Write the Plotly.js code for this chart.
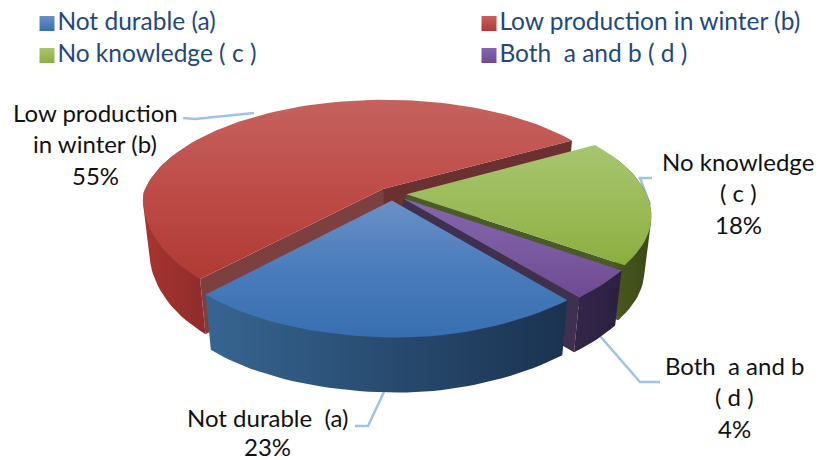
<!DOCTYPE html>
<html>
<head>
<meta charset="utf-8">
<script src="https://cdn.plot.ly/plotly-3.0.1.min.js"></script>
<style>html,body{margin:0;padding:0;background:#fff}#chart{width:822px;height:460px}</style>
</head>
<body>
<div id="chart"></div>
<script>
// Reasons given, in clockwise pie order
const categories = ['Not durable (a)', 'Low production in winter (b)', 'No knowledge ( c )', 'Both  a and b ( d )'];
const shares = [23, 55, 18, 4];
const labelLines = [['Not durable  (a)'], ['Low production', 'in winter (b)'], ['No knowledge', '( c )'], ['Both  a and b', '( d )']];

// Camera model for the tilted disc
const CX = 392, CY = 194, RX = 240, RY = 108, PERSP = 0.191, DEPTH = 55, SHRINK = 0.027;
const SKEW_RIGHT = 29, SKEW_LEFT = 22, ROLL = 0.0125;
const EXPLODE = 0.06, FIRST_ANGLE = 139.2;
const rad = d => d * Math.PI / 180;

function project(u, v, z) {
  const s = 1 / (1 - PERSP * v);
  const near = Math.max(0, v);
  const pull = u > 0 ? -SKEW_RIGHT * u * near ** 3 : SKEW_LEFT * u ** 4 * near;
  const x = CX + RX * u * s * (1 - SHRINK * z) + pull;
  const y = CY + RY * v * s + DEPTH * z + ROLL * (x - CX) * near;
  return [x, y];
}

const looks = [
  {top: ['#6a90c6', '#4a7cbc', '#376fb0'], wall: ['#376591', '#1a3250'], cut: '#3a3a5a'},
  {top: ['#c5625e', '#bf4c48', '#b03a34'], wall: ['#a8352f', '#8e2c2c'], cut: '#7c4040', cut2: '#6b3030'},
  {top: ['#a8c570', '#9bbb59', '#8cae40'], wall: ['#4a5a1e', '#3c4818'], cut: '#4a5a28'},
  {top: ['#8566ad', '#7a5aa0', '#6f4a94'], wall: ['#33264a', '#2c2040'], cut: '#40304f'}
];

const traces = [];
function polygon(pts, fill, gradient) {
  const t = {
    x: pts.map(p => p[0]), y: pts.map(p => p[1]),
    mode: 'lines', fill: 'toself', line: {width: 0},
    showlegend: false, hoverinfo: 'skip'
  };
  if (gradient) t.fillgradient = gradient; else t.fillcolor = fill;
  traces.push(t);
}
function scale(cols) {
  return cols.map((c, i) => [i / (cols.length - 1), c]);
}
// Convex outline of a point set, so a wall includes its silhouette edge
function hull(points) {
  const p = points.slice().sort((a, b) => a[0] - b[0] || a[1] - b[1]);
  const cross = (o, a, b) => (a[0] - o[0]) * (b[1] - o[1]) - (a[1] - o[1]) * (b[0] - o[0]);
  const half = list => {
    const out = [];
    list.forEach(q => {
      while (out.length > 1 && cross(out[out.length - 2], out[out.length - 1], q) <= 0) out.pop();
      out.push(q);
    });
    out.pop();
    return out;
  };
  return half(p).concat(half(p.slice().reverse()));
}

// Slice angles, measured clockwise from the far side of the disc
const total = shares.reduce((a, b) => a + b, 0);
let running = FIRST_ANGLE;
const slices = shares.map((s, i) => {
  const a0 = running, a1 = running + s / total * 360;
  running = a1;
  const mid = rad((a0 + a1) / 2);
  return {i, a0, a1, ox: EXPLODE * Math.sin(mid), oy: -EXPLODE * Math.cos(mid)};
});

function rim(sl, a, z) {
  return project(sl.ox + Math.sin(rad(a)), sl.oy - Math.cos(rad(a)), z);
}
function arc(sl, from, to, z) {
  const out = [], n = Math.max(2, Math.ceil(Math.abs(to - from) / 2));
  for (let k = 0; k <= n; k++) out.push(rim(sl, from + (to - from) * k / n, z));
  return out;
}

// Far slices first, so nearer ones paint over them
[1, 2, 3, 0].forEach(idx => {
  const sl = slices[idx], look = looks[idx];
  const apexTop = project(sl.ox, sl.oy, 0), apexBot = project(sl.ox, sl.oy, 1);

  // Cut faces turned toward the viewer
  if (Math.sin(rad(sl.a0)) < 0) {
    polygon([apexTop, rim(sl, sl.a0, 0), rim(sl, sl.a0, 1), apexBot], look.cut);
  }
  if (Math.sin(rad(sl.a1)) > 0) {
    polygon([apexTop, rim(sl, sl.a1, 0), rim(sl, sl.a1, 1), apexBot], look.cut2 || look.cut);
  }

  // Outer wall on the near part of the rim
  [[70, 290], [430, 650]].forEach(([lo, hi]) => {
    const from = Math.max(sl.a0, lo), to = Math.min(sl.a1, hi);
    if (to <= from) return;
    const pts = hull(arc(sl, from, to, 0).concat(arc(sl, from, to, 1)));
    const xs = pts.map(p => p[0]);
    polygon(pts, null, {
      type: 'horizontal',
      start: Math.min(...xs), stop: Math.max(...xs),
      colorscale: scale(look.wall)
    });
  });

  // Top face
  const face = [apexTop].concat(arc(sl, sl.a0, sl.a1, 0));
  const ys = face.map(p => p[1]);
  polygon(face, null, {
    type: 'vertical',
    start: Math.min(...ys), stop: Math.max(...ys),
    colorscale: scale(look.top)
  });
});

// Key along the top: two columns, a and b on the first row, c and d on the second
const FONT_FAMILY = 'Lato, "Open Sans", sans-serif';
const keyX = [47, 489, 47, 489], keyY = [23.5, 23.5, 55.5, 55.5];
categories.forEach((name, i) => {
  traces.push({
    x: [keyX[i]], y: [keyY[i]], mode: 'markers+text', name,
    text: [name], textposition: 'middle right',
    textfont: {family: FONT_FAMILY, size: 24.5, color: '#1f497d'},
    marker: {symbol: 'square', size: 15, color: looks[i].top[0],
             gradient: {type: 'vertical', color: looks[i].top[2]}},
    showlegend: false, hoverinfo: 'skip'
  });
});

// Data labels: each line of text placed on its own baseline
const LABEL_FONT = {family: FONT_FAMILY, size: 24, color: '#111111'};
const labelAnchors = [[267, 417], [95, 112], [738, 161], [734, 365]];
const lineSteps = [29.5, 31.5, 31.5, 31.5];
const annotations = [];
labelLines.forEach((lines, i) => {
  lines.concat([shares[i] + '%']).forEach((text, k) => {
    annotations.push({
      xref: 'x', yref: 'y', x: labelAnchors[i][0], y: labelAnchors[i][1] + k * lineSteps[i],
      text, showarrow: false, font: LABEL_FONT, xanchor: 'center', yanchor: 'middle'
    });
  });
});

// Leader lines run behind the pie
const LEADER = {color: '#9dc3e6', width: 2.5};
const leaders = ['M183,118 L195,119 L254,113', 'M652,178 L640,178 L650,205', 'M600,336 L640,382 L660,382', 'M355,426 L368,426 L384,392'];
const shapes = leaders.map(path => ({type: 'path', path, xref: 'x', yref: 'y', layer: 'below', line: LEADER}));

Plotly.newPlot('chart', traces, {
  width: 822, height: 460,
  margin: {l: 0, r: 0, t: 0, b: 0},
  paper_bgcolor: '#ffffff', plot_bgcolor: '#ffffff',
  xaxis: {range: [0, 822], visible: false, fixedrange: true},
  yaxis: {range: [460, 0], visible: false, fixedrange: true},
  showlegend: false,
  annotations, shapes,
  hovermode: false
}, {displayModeBar: false, staticPlot: true});
</script>
</body>
</html>
